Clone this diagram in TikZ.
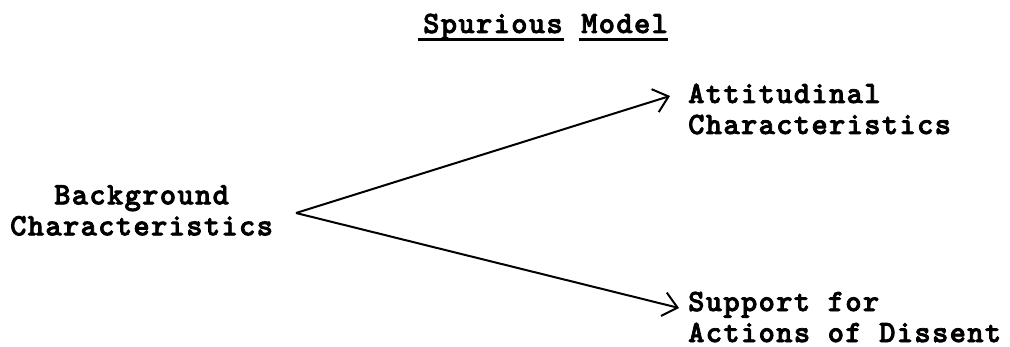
\documentclass[tikz,border=0pt]{standalone}
\usepackage{fontspec}
\newfontfamily\typewriter{lmmonolt10-bold.otf}[LetterSpace=4.3,FakeBold=2.5]
\usetikzlibrary{arrows.meta,calc}
\begin{document}
\begin{tikzpicture}[x=1pt,y=-1pt,
  lbl/.style={font=\typewriter\fontsize{31}{31}\selectfont, inner sep=0pt, align=left},
  uline/.style={line width=3pt},
  conn/.style={line width=2pt, -{Straight Barb[length=14pt,width=24pt,line width=2pt]}}]
\useasboundingbox (0,0) rectangle (1010,347);
\node[lbl, anchor=base west] (spur) at (423,33) {Spurious};
\node[lbl, anchor=base west] (model) at (581,33) {Model};
\draw[uline] ($(spur.base west)+(-5,7)$) -- ($(spur.base east)+(1,7)$);
\draw[uline] ($(model.base west)+(-2,7)$) -- ($(model.base east)+(0,7)$);
\node[lbl, align=center, anchor=west] (bg) at (10,210.5) {Background\\Characteristics};
\node[lbl, anchor=west] (att) at (688,109) {Attitudinal\\Characteristics};
\node[lbl, anchor=west] (sup) at (688,317) {Support for\\Actions of Dissent};
\coordinate (o) at (296,213);
\draw[conn] (o) -- ([xshift=-18pt,yshift=13pt]att.west);
\draw[conn] (o) -- ([xshift=-9pt,yshift=9pt]sup.west);
\end{tikzpicture}
\end{document}
